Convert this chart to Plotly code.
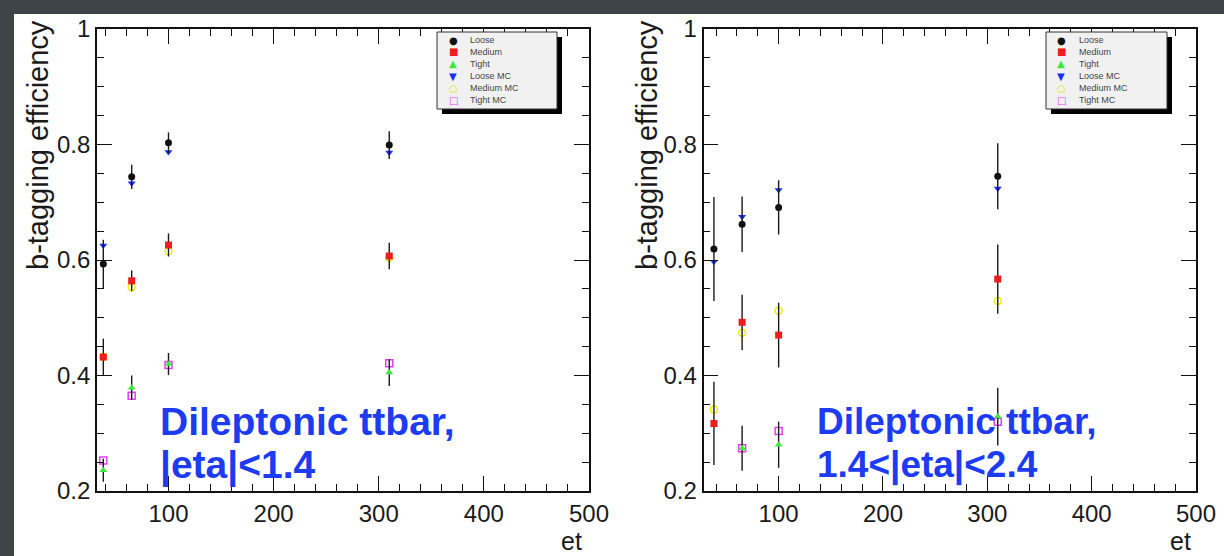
import plotly.graph_objects as go

W, H = 1224, 556

# ---------------- data ----------------
et = [38, 65, 100, 310]

# Dileptonic ttbar, |eta|<1.4
c_loose = [0.593, 0.744, 0.803, 0.799]
c_loose_err = [0.042, 0.021, 0.018, 0.024]
c_medium = [0.432, 0.564, 0.626, 0.607]
c_medium_err = [0.032, 0.018, 0.020, 0.023]
c_tight = [0.236, 0.379, 0.420, 0.405]
c_tight_err = [0.020, 0.021, 0.019, 0.023]
c_loose_mc = [0.625, 0.733, 0.787, 0.786]
c_medium_mc = [0.432, 0.553, 0.615, 0.604]
c_tight_mc = [0.253, 0.365, 0.418, 0.421]

# Dileptonic ttbar, 1.4<|eta|<2.4
f_loose = [0.619, 0.662, 0.691, 0.745]
f_loose_err = [0.090, 0.048, 0.047, 0.057]
f_medium = [0.317, 0.492, 0.470, 0.567]
f_medium_err = [0.072, 0.048, 0.056, 0.060]
f_tight = [None, 0.274, 0.280, 0.329]
f_tight_err = [0, 0.039, 0.040, 0.050]
f_loose_mc = [0.597, 0.675, 0.721, 0.724]
f_medium_mc = [0.341, 0.474, 0.512, 0.529]
f_tight_mc = [None, 0.274, 0.304, 0.320]

y_tickvals = [0.2, 0.4, 0.6, 0.8, 1.0]
y_ticktext = ["0.2", "0.4", "0.6", "0.8", "1"]
x_tickvals = [100, 200, 300, 400, 500]
x_ticktext = ["100", "200", "300", "400", "500"]

legend_names = ["Loose", "Medium", "Tight", "Loose MC", "Medium MC", "Tight MC"]
panel_titles = [("Dileptonic ttbar,", "|eta|<1.4"), ("Dileptonic ttbar,", "1.4<|eta|<2.4")]

# ---------------- styles ----------------
BLACK = "#111111"
RED = "#ee1c1c"
GREEN = "#3ee83e"
BLUE = "#1530ff"
YELLOW = "#f2ee00"
MAGENTA = "#e040f0"
TEXT_BLUE = "#1d3bf2"
FONT = "Liberation Sans, Arial, sans-serif"

styles = {
    "Loose": dict(symbol="circle", color=BLACK, size=7),
    "Medium": dict(symbol="square", color=RED, size=7),
    "Tight": dict(symbol="triangle-up", color=GREEN, size=7),
    "Loose MC": dict(symbol="triangle-down", color=BLUE, size=7),
    "Medium MC": dict(symbol="circle-open", color=YELLOW, size=7, line=dict(width=1.5, color=YELLOW)),
    "Tight MC": dict(symbol="square-open", color=MAGENTA, size=7, line=dict(width=1.5, color=MAGENTA)),
}
glyphs = {"Loose": ("\u25CF", BLACK), "Medium": ("\u25A0", RED), "Tight": ("\u25B2", GREEN),
          "Loose MC": ("\u25BC", BLUE), "Medium MC": ("\u25CB", "#e8e400"), "Tight MC": ("\u25A1", MAGENTA)}


def fx(px):
    return px / W


def fy(py):
    return 1 - py / H


fig = go.Figure()

panels = [
    dict(xa="x", ya="y",
         data={"Loose": (c_loose, c_loose_err), "Medium": (c_medium, c_medium_err),
               "Tight": (c_tight, c_tight_err)},
         mc={"Loose MC": c_loose_mc, "Medium MC": c_medium_mc, "Tight MC": c_tight_mc}),
    dict(xa="x2", ya="y2",
         data={"Loose": (f_loose, f_loose_err), "Medium": (f_medium, f_medium_err),
               "Tight": (f_tight, f_tight_err)},
         mc={"Loose MC": f_loose_mc, "Medium MC": f_medium_mc, "Tight MC": f_tight_mc}),
]

for p in panels:
    for name, vals in p["mc"].items():
        fig.add_trace(go.Scatter(x=et, y=vals, mode="markers", name=name, showlegend=False,
                                 marker=styles[name], xaxis=p["xa"], yaxis=p["ya"]))
    for name, (vals, errs) in p["data"].items():
        fig.add_trace(go.Scatter(x=et, y=vals, mode="markers", name=name, showlegend=False,
                                 marker=styles[name], xaxis=p["xa"], yaxis=p["ya"],
                                 error_y=dict(type="data", array=errs, color="#1a1a1a",
                                              thickness=1.4, width=0)))

tickfont = dict(family=FONT, size=24, color="#1a1a1a")


def xaxis_cfg(domain, rng):
    return dict(domain=domain, range=rng, showline=True, linecolor="#111", linewidth=1.6,
                mirror="allticks", ticks="inside", ticklen=15, tickwidth=1.2, tickcolor="#111",
                tickvals=x_tickvals, ticktext=x_ticktext, tickfont=tickfont, automargin=False,
                minor=dict(ticks="inside", dtick=20, tick0=0, ticklen=7, tickwidth=1, tickcolor="#111"),
                showgrid=False, zeroline=False, fixedrange=True)


def yaxis_cfg(anchor):
    return dict(domain=[fy(491), fy(29)], range=[0.2, 1.0], anchor=anchor, showline=True,
                linecolor="#111", linewidth=1.6, mirror="allticks", ticks="inside", ticklen=15,
                tickwidth=1.2, tickcolor="#111", tickvals=y_tickvals, ticktext=y_ticktext,
                tickfont=tickfont, automargin=False,
                minor=dict(ticks="inside", dtick=0.05, tick0=0, ticklen=7, tickwidth=1, tickcolor="#111"),
                showgrid=False, zeroline=False, fixedrange=True)


xa1 = xaxis_cfg([fx(97), fx(589)], [32, 500])
xa1["anchor"] = "y"
xa2 = xaxis_cfg([fx(703.5), fx(1196)], [28, 500])
xa2["anchor"] = "y2"

shapes = [
    # white slide panel
    dict(type="rect", xref="paper", yref="paper", x0=fx(14), x1=1.0, y0=0, y1=fy(14),
         fillcolor="white", line=dict(width=0), layer="below"),
]
annotations = []

panel_px = [
    dict(ytitle_x=38, et_x=584, leg=(437, 557), mark_x=453, text_x=468, txt_x=158, txt_size=39),
    dict(ytitle_x=647, et_x=1193, leg=(1046, 1167), mark_x=1061, text_x=1077, txt_x=815, txt_size=37),
]

for i, pp in enumerate(panel_px):
    # y axis title
    annotations.append(dict(text="b-tagging efficiency", textangle=-90, xref="paper", yref="paper",
                            x=fx(pp["ytitle_x"]), y=fy(18), xanchor="center", yanchor="top",
                            showarrow=False, font=dict(family=FONT, size=29, color="#1a1a1a")))
    # x axis title
    annotations.append(dict(text="et", xref="paper", yref="paper", x=fx(pp["et_x"]), y=fy(541),
                            xanchor="right", yanchor="middle", showarrow=False,
                            font=dict(family=FONT, size=25, color="#1a1a1a")))
    # legend box with shadow
    lx0, lx1 = pp["leg"]
    shapes.append(dict(type="rect", xref="paper", yref="paper", x0=fx(lx0 + 5), x1=fx(lx1 + 5),
                       y0=fy(114), y1=fy(37), fillcolor="#000", line=dict(width=0)))
    shapes.append(dict(type="rect", xref="paper", yref="paper", x0=fx(lx0), x1=fx(lx1),
                       y0=fy(109), y1=fy(32), fillcolor="#f1f1f1", line=dict(width=1, color="#333")))
    for k, name in enumerate(legend_names):
        yy = 40 + k * 12
        g, col = glyphs[name]
        annotations.append(dict(text=g, xref="paper", yref="paper", x=fx(pp["mark_x"]), y=fy(yy),
                                xanchor="center", yanchor="middle", showarrow=False,
                                font=dict(family="DejaVu Sans", size=10, color=col)))
        annotations.append(dict(text=name, xref="paper", yref="paper", x=fx(pp["text_x"]), y=fy(yy),
                                xanchor="left", yanchor="middle", showarrow=False,
                                font=dict(family=FONT, size=9, color="#444")))
    # big blue panel label
    l1, l2 = panel_titles[i]
    for line, yy in ((l1, 421), (l2, 465)):
        annotations.append(dict(text="<b>" + line + "</b>", xref="paper", yref="paper",
                                x=fx(pp["txt_x"]), y=fy(yy), xanchor="left", yanchor="middle",
                                showarrow=False, font=dict(family=FONT, size=pp["txt_size"], color=TEXT_BLUE)))

fig.update_layout(
    width=W, height=H, autosize=False,
    margin=dict(l=0, r=0, t=0, b=0, autoexpand=False),
    paper_bgcolor="#3e4448", plot_bgcolor="white",
    showlegend=False,
    xaxis=xa1, yaxis=yaxis_cfg("x"),
    xaxis2=xa2, yaxis2=yaxis_cfg("x2"),
    shapes=shapes, annotations=annotations,
)

fig.write_html("out.html")
